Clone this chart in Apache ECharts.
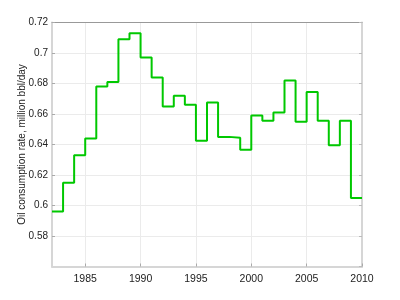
<!DOCTYPE html>
<html>
<head>
<meta charset="utf-8">
<script src="https://cdn.jsdelivr.net/npm/echarts@6/dist/echarts.min.js"></script>
<style>html,body{margin:0;padding:0;background:#fff;}#c{width:400px;height:300px;}</style>
</head>
<body>
<div id="c"></div>
<script>
var years = [1982,1983,1984,1985,1986,1987,1988,1989,1990,1991,1992,1993,1994,1995,1996,1997,1998,1999,2000,2001,2002,2003,2004,2005,2006,2007,2008,2009];
var consumption = [0.596,0.615,0.633,0.644,0.678,0.681,0.709,0.713,0.697,0.684,0.665,0.672,0.666,0.6425,0.6675,0.645,0.6445,0.6365,0.659,0.6555,0.661,0.682,0.655,0.6745,0.6555,0.6395,0.6555,0.605];
var xTicks = [1985,1990,1995,2000,2005,2010];
var yTicks = [0.58,0.6,0.62,0.64,0.66,0.68,0.7,0.72];
var yLabel = 'Oil consumption rate, million bbl/day';

var data = years.map(function(y,i){return [y, consumption[i]];});
// close the last step at the end of its year
data.push([years[years.length-1]+1, consumption[consumption.length-1]]);

var font = 'Liberation Sans, Arial, sans-serif';
var chart = echarts.init(document.getElementById('c'), null, {renderer:'canvas'});
chart.setOption({
  animation:false,
  backgroundColor:'#fff',
  grid:{left:52,right:38,top:22.5,bottom:33.5,containLabel:false},
  xAxis:[{
    type:'value',min:1982,max:2010,
    axisLine:{show:true,lineStyle:{color:'#d6d6d6',width:2}},
    axisTick:{show:true,inside:true,length:3,customValues:xTicks,lineStyle:{color:'#aaa'}},
    axisLabel:{customValues:xTicks,color:'#222',fontSize:10.5,fontFamily:font,margin:7,
      formatter:function(v){return String(Math.round(v));}},
    splitLine:{show:true,lineStyle:{color:'#ebebeb',width:1}}
  },{
    type:'value',min:1982,max:2010,position:'top',
    axisLine:{show:true,lineStyle:{color:'#999',width:1}},
    axisTick:{show:false},axisLabel:{show:false},splitLine:{show:false}
  }],
  yAxis:[{
    type:'value',min:0.56,max:0.72,interval:0.02,
    name:yLabel,nameLocation:'middle',nameGap:25,nameRotate:90,nameMoveOverlap:false,
    nameTextStyle:{color:'#222',fontSize:10,fontFamily:font},
    axisLine:{show:true,lineStyle:{color:'#d6d6d6',width:2}},
    axisTick:{show:true,inside:true,length:3,lineStyle:{color:'#aaa'}},
    axisLabel:{color:'#222',fontSize:10,fontFamily:font,margin:4,showMinLabel:false,
      formatter:function(v){return yTicks.some(function(t){return Math.abs(t-v)<1e-9;}) ? String(+v.toFixed(2)) : '';}},
    splitLine:{show:true,lineStyle:{color:'#ebebeb',width:1}}
  },{
    type:'value',min:0.56,max:0.72,interval:0.02,position:'right',
    axisLine:{show:true,lineStyle:{color:'#d6d6d6',width:2}},
    axisTick:{show:true,inside:true,length:3,lineStyle:{color:'#bbb'}},
    axisLabel:{show:false},splitLine:{show:false}
  }],
  series:[{
    type:'line',step:'end',data:data,showSymbol:false,symbol:'none',
    lineStyle:{color:'#00c800',width:2},
    xAxisIndex:0,yAxisIndex:0
  }]
});
</script>
</body>
</html>
